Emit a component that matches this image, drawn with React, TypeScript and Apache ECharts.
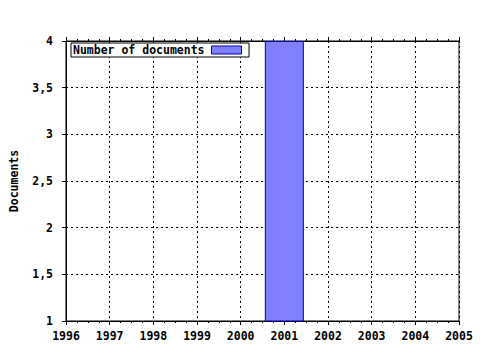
import React, { useEffect, useRef } from "react";
import * as echarts from "echarts";

const years = [2001];
const documents = [4];
const seriesName = "Number of documents";
const yTickLabels: Record<string, string> = { "1": "1", "1.5": "1,5", "2": "2", "2.5": "2,5", "3": "3", "3.5": "3,5", "4": "4" };

const FONT = "DejaVu Sans Mono";

export default function App() {
  const ref = useRef<HTMLDivElement>(null);
  useEffect(() => {
    const chart = echarts.init(ref.current!, null, { renderer: "svg" });
    const data = years.map((y, i) => [y, documents[i]]);
    chart.setOption({
      animation: false,
      backgroundColor: "#ffffff",
      textStyle: { fontFamily: FONT, fontWeight: "bold", fontSize: 11.5, color: "#000" },
      grid: { left: 65, right: 21, top: 41, bottom: 29, show: true, borderColor: "#000", borderWidth: 1 },
      legend: {
        left: 71,
        top: 43,
        orient: "horizontal",
        align: "right",
        itemWidth: 30,
        itemHeight: 8,
        itemGap: 0,
        padding: [1, 7, 1, 2],
        backgroundColor: "#fff",
        borderColor: "#000",
        borderWidth: 1,
        borderRadius: 0,
        icon: "rect",
        textStyle: { fontFamily: FONT, fontWeight: "bold", fontSize: 11.5, color: "#000", padding: [0, 2, 0, 0] },
        data: [{ name: seriesName, itemStyle: { color: "#8080ff", borderColor: "#0000aa", borderWidth: 1 } }],
      },
      xAxis: [
        {
          type: "value",
          position: "bottom",
          min: 1996,
          max: 2005,
          interval: 1,
          axisLine: { show: true, lineStyle: { color: "#000", width: 1 } },
          axisTick: { show: true, inside: false, length: 4, lineStyle: { color: "#000" } },
          minorTick: { show: true, splitNumber: 4, length: 2, lineStyle: { color: "#000" } },
          axisLabel: { color: "#000", fontFamily: FONT, fontWeight: "bold", fontSize: 11.5, margin: 9, formatter: (v: number) => String(v) },
          splitLine: { show: true, lineStyle: { color: "#000", type: [2, 3], width: 1 } },
        },
        {
          type: "value",
          position: "top",
          min: 1996,
          max: 2005,
          interval: 1,
          axisLine: { show: true, lineStyle: { color: "#000", width: 1 } },
          axisTick: { show: true, inside: false, length: 4, lineStyle: { color: "#000" } },
          minorTick: { show: true, splitNumber: 4, length: 2, lineStyle: { color: "#000" } },
          axisLabel: { show: false },
          splitLine: { show: false },
        },
      ],
      yAxis: {
        type: "value",
        min: 1,
        max: 4,
        interval: 0.5,
        name: "Documents",
        nameLocation: "middle",
        nameGap: 46,
        nameTextStyle: { fontFamily: FONT, fontWeight: "bold", fontSize: 11.5, color: "#000" },
        axisLine: { show: true, lineStyle: { color: "#000", width: 1 } },
        axisTick: { show: true, inside: false, length: 4, lineStyle: { color: "#000" } },
        axisLabel: {
          color: "#000",
          fontFamily: FONT,
          fontWeight: "bold",
          fontSize: 11.5,
          margin: 13,
          formatter: (v: number) => yTickLabels[String(v)] ?? String(v),
        },
        splitLine: { show: true, lineStyle: { color: "#000", type: [2, 3], width: 1 } },
      },
      series: [
        {
          name: seriesName,
          type: "bar",
          xAxisIndex: 0,
          barWidth: 39,
          data,
          itemStyle: { color: "#8080ff", borderColor: "#0000aa", borderWidth: 1 },
        },
      ],
    });
    return () => chart.dispose();
  }, []);
  return <div ref={ref} style={{ position: "fixed", left: 0, top: 0, width: 480, height: 350 }} />;
}
